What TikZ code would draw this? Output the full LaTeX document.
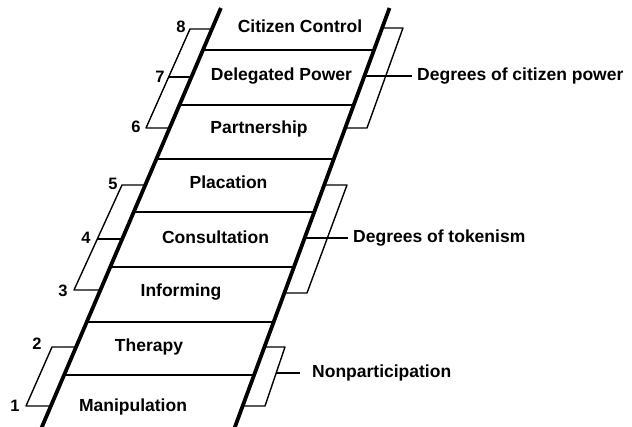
\documentclass[tikz,border=0pt]{standalone}
\usepackage{fontspec}
\setmainfont{Liberation Sans}
\begin{document}
\begin{tikzpicture}[x=1pt,y=-1pt,
  rail/.style={line width=3.8pt},
  rung/.style={line width=2.4pt},
  brk/.style={line width=1.4pt, line join=round},
  lab/.style={font=\bfseries\fontsize{17.5}{20}\selectfont, inner sep=0pt, anchor=base},
  side/.style={lab, anchor=base west},
  num/.style={font=\bfseries\fontsize{16.5}{19}\selectfont, inner sep=0pt, anchor=base}]
\useasboundingbox (0,0) rectangle (632,427);
% rails
\coordinate (Lt) at (220.9,8);  \coordinate (Lb) at (40.6,430);
\coordinate (Rt) at (389.5,8);  \coordinate (Rb) at (233.8,430);
\draw[rail] (Lt) -- (Lb);
\draw[rail] (Rt) -- (Rb);
% rungs
\coordinate (r1l) at (202.9,50);  \coordinate (r1r) at (374.0,50);
\coordinate (r2l) at (179.4,105); \coordinate (r2r) at (353.7,105);
\coordinate (r3l) at (156.4,159); \coordinate (r3r) at (333.8,159);
\coordinate (r4l) at (133.7,212); \coordinate (r4r) at (314.2,212);
\coordinate (r5l) at (110.3,267); \coordinate (r5r) at (293.9,267);
\coordinate (r6l) at (86.8,322);  \coordinate (r6r) at (273.6,322);
\coordinate (r7l) at (64.1,375);  \coordinate (r7r) at (254.1,375);
\foreach \i in {1,...,7} \draw[rung] (r\i l) -- (r\i r);
% rung labels
\node[lab] (cc) at (300,33)   {Citizen Control};
\node[lab] (dp) at (281.5,81) {Delegated Power};
\node[lab] (pa) at (259,134)  {Partnership};
\node[lab] (pl) at (228.5,189){Placation};
\node[lab] (co) at (215.5,244){Consultation};
\node[lab] (in) at (181,297)  {Informing};
\node[lab] (th) at (149,352)  {Therapy};
\node[lab] (ma) at (133,412)  {Manipulation};
% left brackets
\coordinate (a1) at (211.9,29); \coordinate (a2) at (190,29);
\coordinate (a3) at (146,128);  \coordinate (a4) at (169.6,128);
\coordinate (a5) at (168.7,77); \coordinate (a6) at (191.4,77);
\draw[brk] (a1) -- (a2) -- (a3) -- (a4);
\draw[brk] (a5) -- (a6);
\coordinate (b1) at (145.3,185); \coordinate (b2) at (122,185);
\coordinate (b3) at (74,290);    \coordinate (b4) at (100.4,290);
\coordinate (b5) at (97.3,239);  \coordinate (b6) at (122.2,239);
\draw[brk] (b1) -- (b2) -- (b3) -- (b4);
\draw[brk] (b5) -- (b6);
\coordinate (c1) at (76.1,347); \coordinate (c2) at (52,347);
\coordinate (c3) at (26,406);   \coordinate (c4) at (50.9,406);
\draw[brk] (c1) -- (c2) -- (c3) -- (c4);
% numbers
\node[num] (n8) at (181,33)  {8};
\node[num] (n7) at (160,83)  {7};
\node[num] (n6) at (136,133) {6};
\node[num] (n5) at (113,190) {5};
\node[num] (n4) at (86,244)  {4};
\node[num] (n3) at (63,297)  {3};
\node[num] (n2) at (37,350)  {2};
\node[num] (n1) at (15,412)  {1};
% right brackets
\coordinate (d1) at (382.1,28); \coordinate (d2) at (403,28);
\coordinate (d3) at (367,128);  \coordinate (d4) at (345.2,128);
\coordinate (d5) at (364.4,76); \coordinate (d6) at (412,76);
\draw[brk] (d1) -- (d2) -- (d3) -- (d4);
\draw[brk] (d5) -- (d6);
\coordinate (e1) at (324.2,185); \coordinate (e2) at (347,185);
\coordinate (e3) at (307,293);   \coordinate (e4) at (284.3,293);
\coordinate (e5) at (304.6,238); \coordinate (e6) at (348,238);
\draw[brk] (e1) -- (e2) -- (e3) -- (e4);
\draw[brk] (e5) -- (e6);
\coordinate (f1) at (264.4,347); \coordinate (f2) at (285,347);
\coordinate (f3) at (265,406);   \coordinate (f4) at (242.6,406);
\coordinate (f5) at (276.2,373); \coordinate (f6) at (300,373);
\draw[brk] (f1) -- (f2) -- (f3) -- (f4);
\draw[brk] (f5) -- (f6);
% side labels
\node[side] (cp) at (417,81)  {Degrees of citizen power};
\node[side] (tk) at (353,243) {Degrees of tokenism};
\node[side] (np) at (312,378) {Nonparticipation};
\end{tikzpicture}
\end{document}
